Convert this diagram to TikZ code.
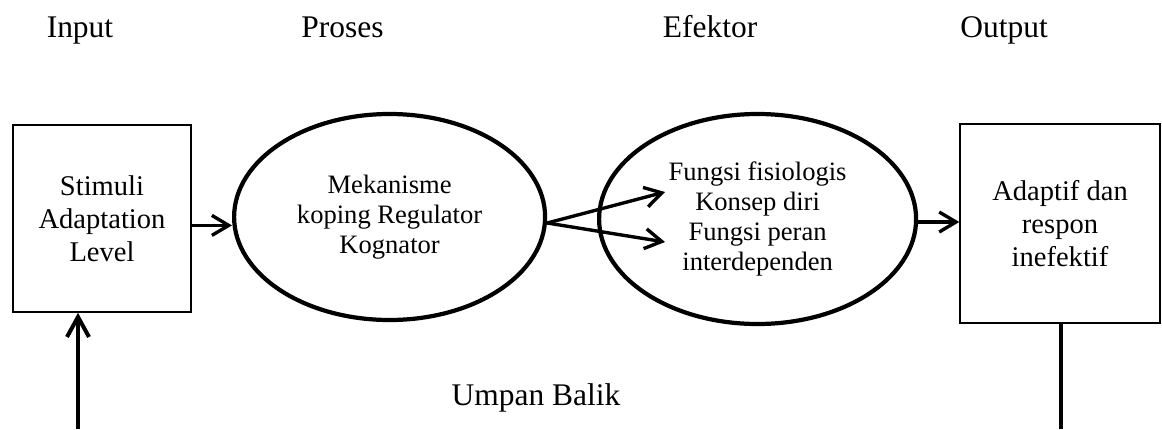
\documentclass[tikz,border=0pt]{standalone}
\usepackage{fontspec}
\setmainfont{Liberation Serif}
\usetikzlibrary{shapes.geometric,arrows.meta}

\begin{document}
\begin{tikzpicture}[
	kotak/.style={draw, line width=1pt, inner sep=0pt, align=center, font=\fontsize{20.3}{23.5}\selectfont},
	oval/.style={draw, ellipse, line width=3pt, inner sep=0pt, align=center, font=\fontsize{18.9}{21.3}\selectfont},
	judul/.style={anchor=base, font=\fontsize{22.4}{26}\selectfont},
	panah/.style={line width=2.4pt, -{Straight Barb[length=4.2mm,width=5mm]}}]
				\useasboundingbox (0,0) rectangle (29.05,10.725);
				\node[kotak, minimum width=4.45cm, minimum height=4.675cm] (stimuli) at (2.55,5.26) {Stimuli\\Adaptation\\Level};
				\node[oval, minimum width=7.775cm, minimum height=5.15cm] (mekanisme) at (9.74,5.3) {Mekanisme\\koping Regulator\\Kognator};
				\node[oval, minimum width=7.925cm, minimum height=5.25cm] (efektor) at (18.94,5.25) {Fungsi fisiologis\\Konsep diri\\Fungsi peran\\interdependen};
				\node[kotak, minimum width=5cm, minimum height=4.975cm] (adaptif) at (26.5,5.14) {Adaptif dan\\respon\\inefektif};
				\foreach \x/\t in {2.0/Input, 8.56/Proses, 17.75/Efektor, 25.1/Output} \node[judul] (\t) at (\x,9.8) {\t};
				\node[judul] (umpan) at (13.4,0.6) {Umpan Balik};
				\coordinate (fa) at (16.625,5.925); \coordinate (fb) at (16.625,4.675); 
				\coordinate (ua) at (1.95,0); \coordinate (ub) at (26.525,0); 
				\draw[panah] ([yshift=-0.17cm]stimuli.east) -- ([yshift=-0.17cm]stimuli.east -| mekanisme.west);
				\foreach \f in {fa,fb} \draw[panah] ([yshift=-0.15cm]mekanisme.east) -- (\f);
				\draw[panah] ([yshift=-0.075cm]efektor.east) -- ([yshift=-0.075cm]efektor.east -| adaptif.west);
				\draw[panah, line width=2.85pt, -{Straight Barb[length=5mm,width=5.5mm]}] (ua) -- (ua |- stimuli.south);
				\draw[line width=3.5pt] (adaptif.south -| ub) -- (ub);
			\end{tikzpicture}
\end{document}
